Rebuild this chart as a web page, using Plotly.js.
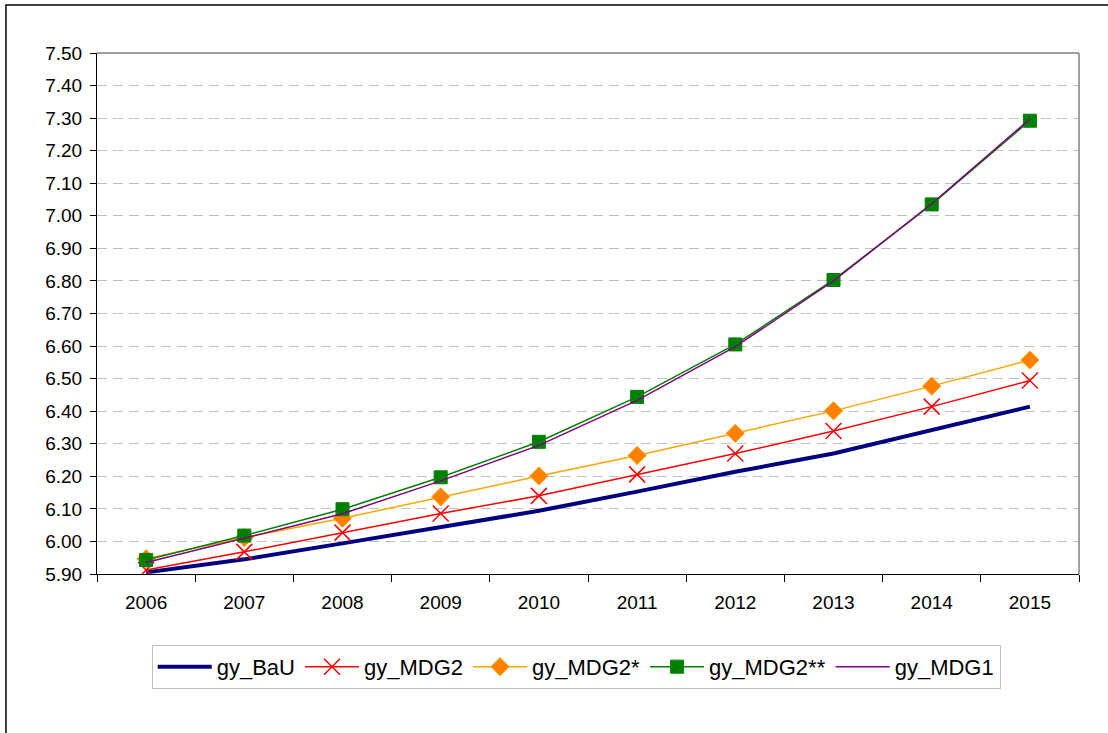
<!DOCTYPE html>
<html>
<head>
<meta charset="utf-8">
<script src="https://cdn.plot.ly/plotly-3.0.1.min.js"></script>
<style>
html,body{margin:0;padding:0;background:#fff;}
#chart{width:1108px;height:733px;}
</style>
</head>
<body>
<div id="chart"></div>
<script>
const years = ["2006","2007","2008","2009","2010","2011","2012","2013","2014","2015"];
const gy_BaU    = [5.905, 5.945, 5.994, 6.044, 6.094, 6.153, 6.214, 6.270, 6.342, 6.414];
const gy_MDG2   = [5.912, 5.968, 6.027, 6.086, 6.140, 6.206, 6.270, 6.339, 6.414, 6.494];
const gy_MDG2s  = [5.947, 6.012, 6.071, 6.137, 6.201, 6.264, 6.332, 6.401, 6.477, 6.557];
const gy_MDG2ss = [5.943, 6.018, 6.099, 6.197, 6.306, 6.444, 6.605, 6.803, 7.035, 7.292];
const gy_MDG1   = [5.935, 6.010, 6.085, 6.186, 6.295, 6.433, 6.598, 6.800, 7.037, 7.297];
const seriesNames = ["gy_BaU","gy_MDG2","gy_MDG2*","gy_MDG2**","gy_MDG1"];

const font = "Liberation Sans, Arial, sans-serif";

const traces = [
  {x: years, y: gy_BaU, name: seriesNames[0], type: "scatter", mode: "lines",
   line: {color: "#000080", width: 4}},
  {x: years, y: gy_MDG2, name: seriesNames[1], type: "scatter", mode: "lines+markers",
   line: {color: "#FF0000", width: 1.5},
   marker: {symbol: "x-thin-open", size: 16, color: "#FF0000", line: {color: "#FF0000", width: 1.5}}},
  {x: years, y: gy_MDG2s, name: seriesNames[2], type: "scatter", mode: "lines+markers",
   line: {color: "#FFA500", width: 1.5},
   marker: {symbol: "diamond", size: 14, color: "#FF7F00", line: {color: "#FFA500", width: 1}}},
  {x: years, y: gy_MDG2ss, name: seriesNames[3], type: "scatter", mode: "lines+markers",
   line: {color: "#008000", width: 1.5},
   marker: {symbol: "square", size: 13, color: "#008000", line: {color: "#008000", width: 1}}},
  {x: years, y: gy_MDG1, name: seriesNames[4], type: "scatter", mode: "lines",
   line: {color: "#800080", width: 1.5}}
];

const layout = {
  width: 1108, height: 733,
  margin: {l: 97, r: 29, t: 53, b: 159},
  paper_bgcolor: "#fff", plot_bgcolor: "#fff",
  font: {family: font, size: 19, color: "#000"},
  showlegend: true,
  legend: {
    orientation: "h", x: 0.488, xanchor: "center", y: -0.136, yanchor: "top",
    bordercolor: "#c0c0c0", borderwidth: 1, bgcolor: "#fff",
    font: {family: font, size: 22, color: "#000"},
    itemwidth: 54, tracegroupgap: 0
  },
  xaxis: {
    type: "category", tickson: "boundaries", range: [-0.5, 9.5], autorange: false,
    showline: true, linecolor: "#000", linewidth: 1,
    ticks: "outside", ticklen: 7, tickcolor: "#000", tickwidth: 1,
    showgrid: false, zeroline: false,
    tickfont: {family: font, size: 19, color: "#000"},
    ticklabelstandoff: 11
  },
  yaxis: {
    range: [5.9, 7.5], autorange: false, dtick: 0.1, tick0: 5.9, tickformat: ".2f",
    showline: true, linecolor: "#000", linewidth: 1,
    ticks: "outside", ticklen: 6, tickcolor: "#000", tickwidth: 1,
    showgrid: true, gridcolor: "#c0c0c0", gridwidth: 1, griddash: "10px,6px",
    zeroline: false,
    tickfont: {family: font, size: 19, color: "#000"},
    ticklabelstandoff: 4
  },
  shapes: [
    {type: "line", xref: "paper", yref: "paper", x0: 0, x1: 1, y0: 1, y1: 1,
     line: {color: "#808080", width: 1.5}},
    {type: "line", xref: "paper", yref: "paper", x0: 1, x1: 1, y0: 0, y1: 1,
     line: {color: "#808080", width: 1.5}},
    {type: "rect", xref: "paper", yref: "paper",
     x0: -0.0927, x1: 1.2, y0: 1.0921, y1: -0.5,
     line: {color: "#000", width: 1.5}, layer: "below"}
  ]
};

Plotly.newPlot("chart", traces, layout, {displayModeBar: false, staticPlot: true});
</script>
</body>
</html>
